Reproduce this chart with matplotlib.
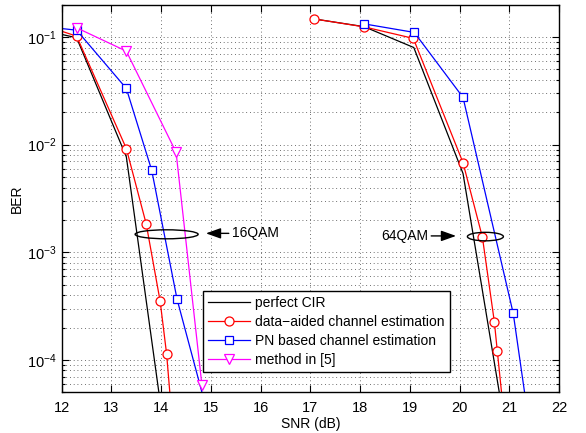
import matplotlib
matplotlib.use("Agg")
import matplotlib.pyplot as plt
from matplotlib.patches import Ellipse
from matplotlib.ticker import LogLocator, NullFormatter

plt.rcParams['font.family'] = ['Liberation Sans', 'DejaVu Sans']
plt.rcParams['mathtext.fontset'] = 'custom'
plt.rcParams['mathtext.rm'] = 'Liberation Sans'
plt.rcParams['mathtext.it'] = 'Liberation Sans'

# ---- data: 16QAM ----
snr16_cir = [11.3, 12.3, 13.3, 14.0]
ber16_cir = [0.125, 0.0986, 7.7e-3, 3.5e-5]
snr16_da = [11.3, 12.3, 13.3, 13.7, 13.98, 14.11, 14.3]
ber16_da = [0.145, 0.102, 9.2e-3, 1.83e-3, 3.5e-4, 1.13e-4, 1e-5]
snr16_pn = [11.3, 12.3, 13.3, 13.81, 14.32, 15.3]
ber16_pn = [0.130, 0.116, 0.0333, 5.78e-3, 3.66e-4, 7.4e-6]
snr16_m5 = [12.3, 13.3, 14.3, 14.82]
ber16_m5 = [0.122, 0.074, 8.5e-3, 5.8e-5]

# ---- data: 64QAM ----
snr64_cir = [17.07, 18.08, 19.08, 20.07, 20.85]
ber64_cir = [0.1476, 0.125, 0.080, 5.4e-3, 3.6e-5]
snr64_da = [17.07, 18.08, 19.07, 20.07, 20.46, 20.70, 20.76, 20.9]
ber64_da = [0.1476, 0.1245, 0.0973, 6.8e-3, 1.38e-3, 2.26e-4, 1.2e-4, 2.8e-5]
snr64_pn = [18.08, 19.09, 20.07, 21.08, 21.5]
ber64_pn = [0.1327, 0.1105, 0.0275, 2.7e-4, 1.2e-5]

labels = ['perfect CIR', 'data\u2212aided channel estimation',
          'PN based channel estimation', 'method in [5]']
xticks = list(range(12, 23))

W, H = 586, 433
fig = plt.figure(figsize=(W / 100, H / 100), dpi=100)
ax = fig.add_axes([61.7 / W, 1 - 392.3 / H, (559 - 61.7) / W, (392.3 - 4.7) / H])

FS = 10
lw = 0.9
sty_cir = dict(color='k', lw=lw)
sty_da = dict(color='#ff0000', lw=lw, marker='o', ms=6.5, mfc='white', mec='#ff0000', mew=0.9)
sty_pn = dict(color='#0000ff', lw=lw, marker='s', ms=6, mfc='white', mec='#0000ff', mew=0.9)
sty_m5 = dict(color='#ff00ff', lw=lw, marker='v', ms=7.5, mfc='white', mec='#ff00ff', mew=0.9)

h1, = ax.plot(snr16_cir, ber16_cir, label=labels[0], **sty_cir)
h2, = ax.plot(snr16_da, ber16_da, label=labels[1], **sty_da)
h3, = ax.plot(snr16_pn, ber16_pn, label=labels[2], **sty_pn)
h4, = ax.plot(snr16_m5, ber16_m5, label=labels[3], **sty_m5)
ax.plot(snr64_cir, ber64_cir, **sty_cir)
ax.plot(snr64_da, ber64_da, **sty_da)
ax.plot(snr64_pn, ber64_pn, **sty_pn)

ax.set_yscale('log')
ax.set_xlim(12, 22)
ax.set_ylim(5e-5, 0.2)
ax.set_xticks(xticks)
ax.yaxis.set_major_locator(LogLocator(base=10, numticks=10))
ax.yaxis.set_minor_locator(LogLocator(base=10, subs=range(2, 10), numticks=20))
ax.yaxis.set_minor_formatter(NullFormatter())

grid_kw = dict(color='0.25', linestyle=(0, (1, 3.5)), linewidth=0.6)
ax.grid(True, which='major', axis='both', **grid_kw)
ax.grid(True, which='minor', axis='y', **grid_kw)
ax.set_axisbelow(True)

ax.tick_params(which='both', direction='in', top=True, right=True, labelsize=FS + 0.5, width=0.8)
ax.tick_params(which='major', length=5)
ax.tick_params(which='minor', length=2.5)
ax.tick_params(axis='x', pad=6)
for s in ax.spines.values():
    s.set_linewidth(1.0)

ax.set_xlabel('SNR (dB)', fontsize=FS, labelpad=2)
ax.set_ylabel('BER', fontsize=FS, labelpad=2)

# annotations
fig.canvas.draw()
to_ax = ax.transAxes.inverted()
aw, ah = 559 - 61.7, 392.3 - 4.7

def ell(xd, yd, wpx, hpx):
    cx, cy = to_ax.transform(ax.transData.transform((xd, yd)))
    ax.add_patch(Ellipse((cx, cy), wpx / aw, hpx / ah, transform=ax.transAxes,
                         fill=False, edgecolor='k', lw=1.0, zorder=5))

ell(14.11, 1.47e-3, 63, 9)
ell(20.52, 1.40e-3, 36, 8.5)

arrow = dict(arrowstyle='-|>,head_length=0.9,head_width=0.32', color='k', lw=1.0,
             shrinkA=0, shrinkB=0)
ax.annotate('', xy=(14.90, 1.50e-3), xytext=(15.36, 1.50e-3), arrowprops=arrow)
ax.text(15.42, 1.50e-3, '16QAM', fontsize=FS, ha='left', va='center')
ax.annotate('', xy=(19.93, 1.42e-3), xytext=(19.43, 1.42e-3), arrowprops=arrow)
ax.text(19.37, 1.42e-3, '64QAM', fontsize=FS, ha='right', va='center')

leg = ax.legend(handles=[h1, h2, h3, h4], loc='upper left',
                bbox_to_anchor=((202.7 - 61.7) / aw, (392.3 - 290.7) / ah),
                borderaxespad=0, fontsize=FS, fancybox=False, framealpha=1,
                edgecolor='k', handlelength=3.0, handletextpad=0.4,
                labelspacing=0.36, borderpad=0.38)
leg.get_frame().set_linewidth(1.0)

fig.savefig('out.png', dpi=100)
